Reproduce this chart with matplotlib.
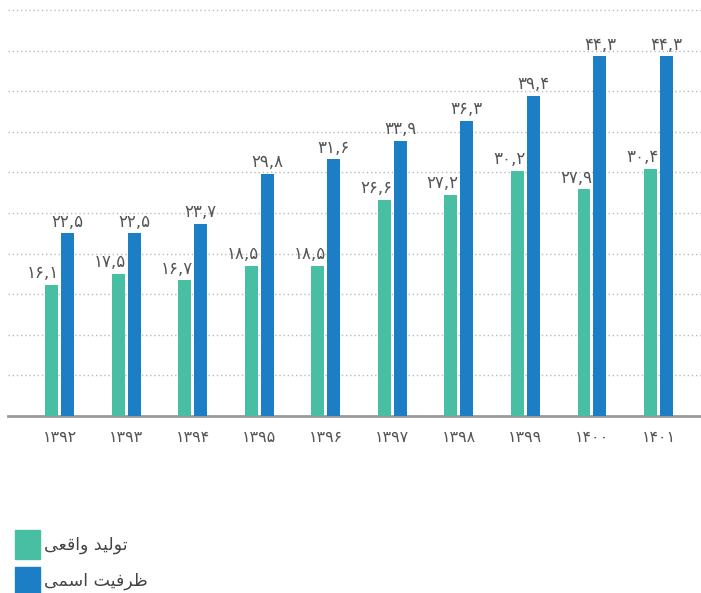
import numpy as np
import matplotlib
matplotlib.use('Agg')
import matplotlib.pyplot as plt
from matplotlib.patches import Rectangle

# years (Persian digits) and the two series
years = ['۱۳۹۲', '۱۳۹۳', '۱۳۹۴', '۱۳۹۵', '۱۳۹۶', '۱۳۹۷', '۱۳۹۸', '۱۳۹۹', '۱۴۰۰', '۱۴۰۱']
actual = [16.1, 17.5, 16.7, 18.5, 18.5, 26.6, 27.2, 30.2, 27.9, 30.4]
nominal = [22.5, 22.5, 23.7, 29.8, 31.6, 33.9, 36.3, 39.4, 44.3, 44.3]

# legend labels, written in presentation forms (visual order) since matplotlib does no shaping
label_actual = '\ufbfd\ufecc\ufed7\ufe8d\ufeed \ufeaa\ufbff\ufedf\ufeee\ufe97'   # تولید واقعی
label_nominal = '\ufbfd\ufee4\ufeb3\ufe8d \ufe96\ufbff\ufed3\ufeae\ufec7'        # ظرفیت اسمی

green = '#48BEA3'
blue = '#1C7FC6'
txtcol = '#555555'

fa_digits = str.maketrans('0123456789.', '۰۱۲۳۴۵۶۷۸۹,')
def fa(v):
    return ('%.1f' % v).translate(fa_digits)

plt.rcParams['font.family'] = ['DejaVu Sans']

fig = plt.figure(figsize=(7.01, 5.93), dpi=100)
ax = fig.add_axes([8/701, 177/593, 693/701, 406/593])

x = np.arange(len(years))
w = 0.195
off = 0.12
ax.bar(x - off, actual, w, color=green, zorder=3)
ax.bar(x + off, nominal, w, color=blue, zorder=3)

# green labels sit flush with the bar's right edge, blue ones centred
for xi, a, n in zip(x, actual, nominal):
    ax.annotate(fa(a), (xi - off + w / 2, a), xytext=(1, 2), textcoords='offset points',
                ha='right', va='bottom', fontsize=12, color=txtcol)
    ax.annotate(fa(n), (xi + off, n), xytext=(0, 2), textcoords='offset points',
                ha='center', va='bottom', fontsize=12, color=txtcol)

for g in range(5, 55, 5):
    ax.axhline(g, color='#bbbbbb', lw=1, ls=(0, (1, 2)), zorder=1, clip_on=False)

ax.set_xlim(-0.774, 9.638)
ax.set_ylim(0, 50)
ax.set_xticks(x)
ax.set_xticklabels(years, fontsize=11.5, color=txtcol)
ax.tick_params(axis='x', length=0, pad=10)
ax.set_yticks([])
for s in ['top', 'right', 'left']:
    ax.spines[s].set_visible(False)
ax.spines['bottom'].set_color('#999999')
ax.spines['bottom'].set_linewidth(2)

# legend drawn by hand at bottom-left
fig.patches.append(Rectangle((15/701, (593-559)/593), 25/701, 29/593,
                             transform=fig.transFigure, color=green))
fig.patches.append(Rectangle((15/701, 0), 25/701, 26/593,
                             transform=fig.transFigure, color=blue))
fig.text(44/701, (593-545)/593, label_actual, fontsize=12.5, color='#444444', va='center', ha='left')
fig.text(44/701, (593-581)/593, label_nominal, fontsize=12.5, color='#444444', va='center', ha='left')

fig.savefig('out.png', dpi=100)
